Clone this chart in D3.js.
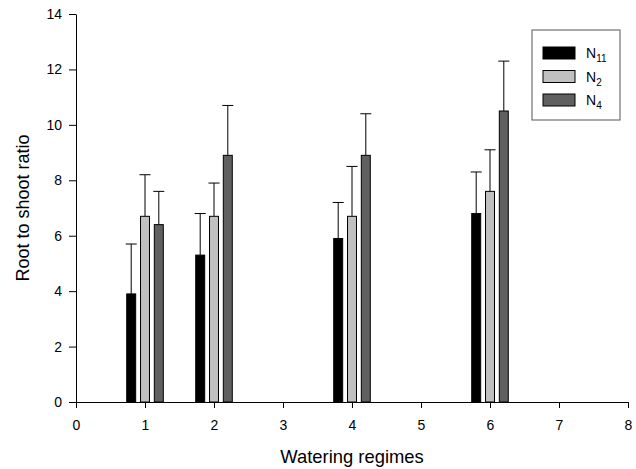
<!DOCTYPE html>
<html>
<head>
<meta charset="utf-8">
<script src="https://cdn.jsdelivr.net/npm/d3@7"></script>
<style>
  body { margin: 0; background: #fff; }
  text { font-family: "Liberation Sans", Arial, sans-serif; }
</style>
</head>
<body>
<div id="chart-container"></div>
<script>
// data
let regimes = [1, 2, 4, 6];
let series = ["N11", "N2", "N4"];
let seriesColors = ["#000000", "#c0c0c0", "#606060"];
let n11Values = [3.9, 5.3, 5.9, 6.8];
let n11Errors = [1.8, 1.5, 1.3, 1.5];
let n2Values = [6.7, 6.7, 6.7, 7.6];
let n2Errors = [1.5, 1.2, 1.8, 1.5];
let n4Values = [6.4, 8.9, 8.9, 10.5];
let n4Errors = [1.2, 1.8, 1.5, 1.8];
let xTicks = [0, 1, 2, 3, 4, 5, 6, 7, 8];
let yTicks = [0, 2, 4, 6, 8, 10, 12, 14];

let margin = { top: 14, right: 8, bottom: 67, left: 76 };
let width = 636 - margin.left - margin.right;
let height = 469 - margin.top - margin.bottom;

var svg = d3
  .select("#chart-container")
  .append("svg")
  .attr("width", 636)
  .attr("height", 469)
  .append("g")
  .attr("transform", "translate(" + margin.left + "," + margin.top + ")");

let xScale = d3.scaleLinear().domain([0, 8]).range([0, width]);
let yScale = d3.scaleLinear().domain([0, 14]).range([height, 0]);

// one row per bar
let allValues = [n11Values, n2Values, n4Values];
let allErrors = [n11Errors, n2Errors, n4Errors];
let bars = [];
series.forEach((s, si) => {
  regimes.forEach((r, ri) => {
    bars.push({ series: si, x: r, value: allValues[si][ri], err: allErrors[si][ri] });
  });
});

let offset = 0.2;
let barW = xScale(0.13) - xScale(0);
let capW = xScale(0.16) - xScale(0);

// error bars (upper only)
let errG = svg.append("g").attr("stroke", "black").attr("stroke-width", 1);
errG
  .selectAll(".err")
  .data(bars)
  .enter()
  .append("line")
  .attr("x1", (d) => xScale(d.x + (d.series - 1) * offset))
  .attr("x2", (d) => xScale(d.x + (d.series - 1) * offset))
  .attr("y1", (d) => yScale(d.value))
  .attr("y2", (d) => yScale(d.value + d.err));
errG
  .selectAll(".cap")
  .data(bars)
  .enter()
  .append("line")
  .attr("x1", (d) => xScale(d.x + (d.series - 1) * offset) - capW / 2)
  .attr("x2", (d) => xScale(d.x + (d.series - 1) * offset) + capW / 2)
  .attr("y1", (d) => yScale(d.value + d.err))
  .attr("y2", (d) => yScale(d.value + d.err));

// bars
svg
  .append("g")
  .selectAll(".bar")
  .data(bars)
  .enter()
  .append("rect")
  .attr("x", (d) => xScale(d.x + (d.series - 1) * offset) - barW / 2)
  .attr("y", (d) => yScale(d.value))
  .attr("width", barW)
  .attr("height", (d) => yScale(0) - yScale(d.value))
  .style("fill", (d) => seriesColors[d.series])
  .style("stroke", "black")
  .style("stroke-width", 1);

// axes
let xAxis = svg
  .append("g")
  .attr("transform", "translate(0," + height + ")")
  .call(d3.axisBottom(xScale).tickValues(xTicks).tickSize(6).tickSizeOuter(0).tickPadding(12));
let yAxis = svg
  .append("g")
  .call(d3.axisLeft(yScale).tickValues(yTicks).tickSize(7).tickSizeOuter(0).tickPadding(7));
[xAxis, yAxis].forEach((a) => {
  a.selectAll("text").style("font-size", "14px").attr("fill", "black");
  a.selectAll("line, path").attr("stroke", "black");
});

// axis labels
svg
  .append("text")
  .attr("transform", "rotate(-90)")
  .attr("x", -height / 2)
  .attr("y", -47)
  .style("text-anchor", "middle")
  .style("font-size", "18px")
  .text("Root to shoot ratio");

svg
  .append("text")
  .attr("x", width / 2)
  .attr("y", height + 61)
  .style("text-anchor", "middle")
  .style("font-size", "18.4px")
  .text("Watering regimes");

// legend
let legend = svg.append("g").attr("transform", "translate(" + (width - 96) + ",16)");
legend
  .append("rect")
  .attr("width", 88)
  .attr("height", 90)
  .style("fill", "white")
  .style("stroke", "#555")
  .style("stroke-width", 1);

let items = legend
  .selectAll(".legend-item")
  .data(series)
  .enter()
  .append("g")
  .attr("transform", (d, i) => "translate(11," + (17 + i * 23.5) + ")");

items
  .append("rect")
  .attr("width", 32)
  .attr("height", 12)
  .style("fill", (d, i) => seriesColors[i])
  .style("stroke", "black");

let labels = items
  .append("text")
  .attr("x", 43)
  .attr("y", 11)
  .style("font-size", "14px");
labels.append("tspan").text("N");
labels
  .append("tspan")
  .attr("dy", 4)
  .style("font-size", "10px")
  .text((d) => d.slice(1));
</script>
</body>
</html>
